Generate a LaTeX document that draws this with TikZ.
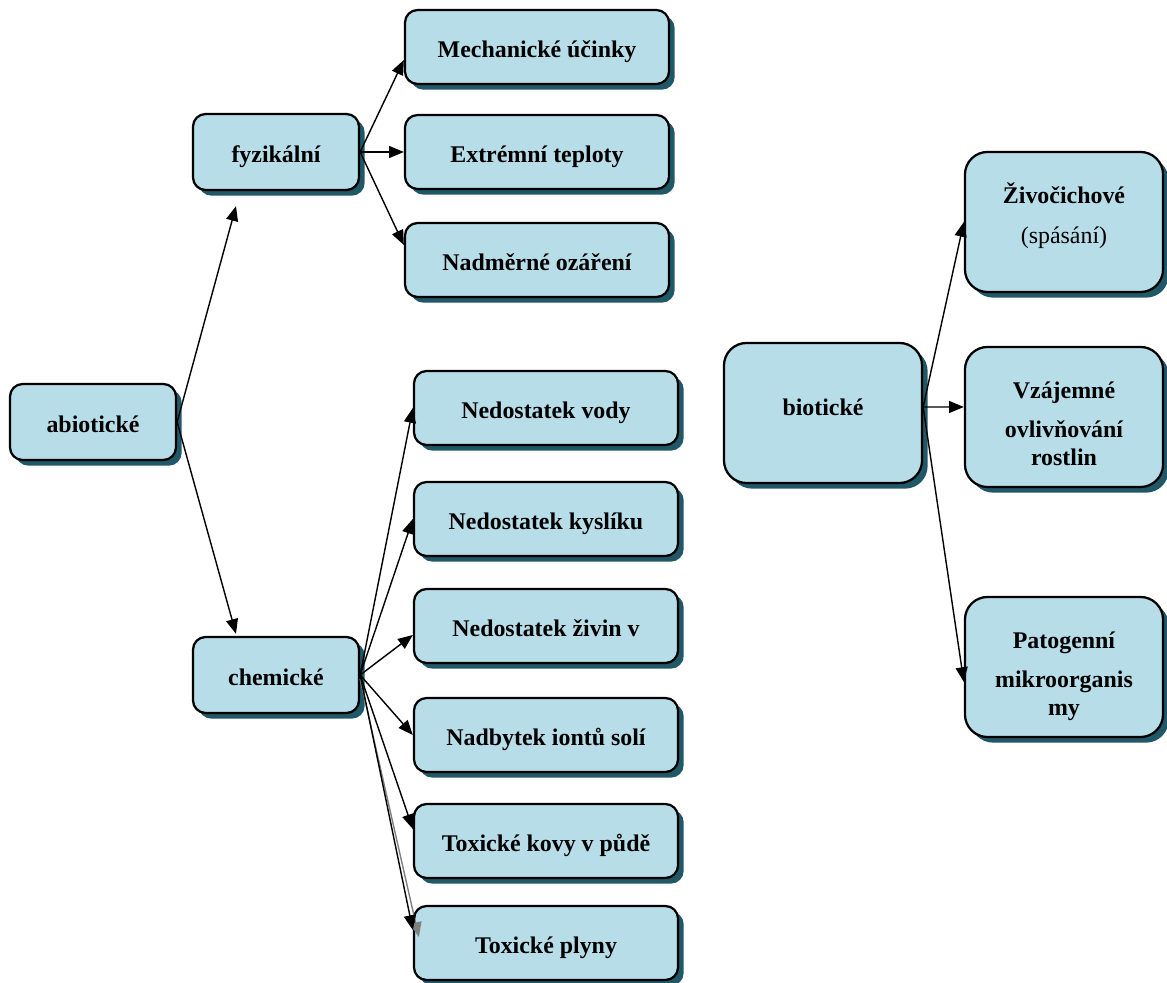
\documentclass[tikz,border=0pt]{standalone}
\usepackage{fontspec}
\setmainfont{Liberation Serif}
\usetikzlibrary{arrows.meta,shadows}
\definecolor{boxfill}{HTML}{B7DDE8}
\definecolor{boxshade}{HTML}{215868}

\begin{document}
\begin{tikzpicture}[%
  x=0.025cm, y=-0.025cm,
  factor/.style={draw=black, line width=1.6pt, fill=boxfill, rounded corners=9pt,
    drop shadow={shadow xshift=4pt, shadow yshift=-4pt, fill=boxshade, opacity=1},
    font=\fontsize{17}{20}\selectfont\bfseries, align=center, inner sep=0pt},
  group/.style={factor, minimum width=4.15cm, minimum height=1.9cm,
    text height=16pt, text depth=0.4pt},
  item/.style={factor, minimum width=6.6cm, minimum height=1.85cm,
    text height=16pt, text depth=0.4pt},
  big/.style={factor, rounded corners=16pt, minimum width=4.95cm, minimum height=3.5cm,
    text height=#1, text depth=0pt},
  arr/.style={-{Triangle[length=10.5pt,width=8.5pt]}, line width=1pt}]
  \useasboundingbox (0,0) rectangle (1167,983);

  % abiotic factors
  \node[group] (abio) at (93,422) {abiotické};
  \node[group] (fyz) at (276,152) {fyzikální};
  \node[group] (chem) at (276,675) {chemické};

  \node[item] (mech) at (537,47) {Mechanické účinky};
  \node[item] (tepl) at (537,152) {Extrémní teploty};
  \node[item] (ozar) at (537,260) {Nadměrné ozáření};

  \node[item] (voda) at (546,408) {Nedostatek vody};
  \node[item] (kysl) at (546,519) {Nedostatek kyslíku};
  \node[item] (zivin) at (546,626) {Nedostatek živin v};
  \node[item] (soli) at (546,735) {Nadbytek iontů solí};
  \node[item] (kovy) at (546,841) {Toxické kovy v půdě};
  \node[item] (plyn) at (546,943) {Toxické plyny};

  % biotic factors
  \node[big=3pt] (bio) at (823,413) {biotické};
  \node[big=31pt] (zivoc) at (1064,222) {Živočichové\\[9pt]{\mdseries (spásání)}};
  \node[big=69pt] (vzaj) at (1064,417) {Vzájemné\\[7.5pt]ovlivňování\\rostlin};
  \node[big=69pt] (pato) at (1064,667) {Patogenní\\[7.5pt]mikroorganis\\my};

  \draw[arr] (abio.east) -- ([xshift=-1cm,yshift=-0.375cm]fyz.south);
  \draw[arr] (abio.east) -- ([xshift=-1cm,yshift=0.05cm]chem.north);

  \draw[arr] (fyz.east) -- ([yshift=-0.325cm]mech.west);
  \draw[arr] (fyz.east) -- (tepl.west);
  \draw[arr] (fyz.east) -- ([yshift=0.375cm]ozar.west);

  \draw[arr] (chem.east) -- (voda.west);
  \draw[arr] (chem.east) -- (kysl.west);
  \draw[arr] (chem.east) -- ([yshift=-0.225cm]zivin.west);
  \draw[arr] (chem.east) -- (soli.west);
  \draw[arr] (chem.east) -- ([yshift=0.3cm]kovy.west);
  \draw[arr, gray] ([yshift=-0.1cm]chem.east) -- ([xshift=0.15cm,yshift=0.15cm]plyn.west);
  \draw[arr] (chem.east) -- ([yshift=0.325cm]plyn.west);

  \draw[arr] ([yshift=0.15cm]bio.east) -- (zivoc.west);
  \draw[arr] ([yshift=0.15cm]bio.east) -- ([yshift=0.25cm]vzaj.west);
  \draw[arr] ([yshift=0.15cm]bio.east) -- ([yshift=-0.375cm]pato.west);
\end{tikzpicture}
\end{document}
